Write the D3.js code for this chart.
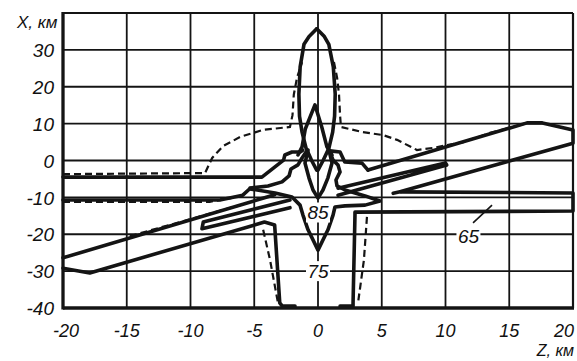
<!DOCTYPE html>
<html><head><meta charset="utf-8">
<script src="https://cdn.jsdelivr.net/npm/d3@7"></script>
<style>
body{margin:0;background:#fff}
svg{display:block}
text{font-family:"Liberation Sans",Arial,sans-serif;font-style:italic;fill:#111}
</style>
</head><body><svg id="c" width="577" height="361"></svg>
<script>
// ---- data (Z km, X km) ----
const zTicks = [-20,-15,-10,-5,0,5,10,15,20];
const xTicks = [-40,-30,-20,-10,0,10,20,30];
const levelLabels = ["85","75","65"];

// solid contour polylines
const lensLeft  = [[-0.1,35.7],[-0.7,33.6],[-1.1,31.5],[-1.4,25.4],[-1.5,18],[-1.45,12],[-1.25,7.7],[-0.94,3.4],[-0.5,0],[-0.1,-2.6]];
const lensRight = [[-0.1,35.7],[0.5,33.6],[0.85,31.5],[1.2,25.4],[1.35,18],[1.3,12],[1.15,7.7],[0.86,3.4],[0.4,0],[0,-2.6]];
const spike     = [[-1.57,1.5],[-1.25,3.7],[-1.0,8.5],[-0.24,15.1],[0.3,9.0],[0.7,3.7],[1.1,1.5]];
const heart     = [[-0.78,2.85],[-1.02,-0.7],[-0.71,-4.7],[-0.39,-8.0],[0,-10.2],[0.39,-8.0],[0.78,-4.7],[1.1,-0.7],[0.86,2.85]];
const star85    = [[-0.94,2.3],[-1.25,0.7],[-1.57,-1.2],[-2.12,-2.3],[-2.27,-4.2],[-2.82,-5.8],[-3.92,-6.9],[-5.33,-7.5],
                   [-5.33,-7.7],[-3.37,-8.8],[-2.04,-9.9],[-1.41,-12.1],[-1.18,-14.8],[-0.78,-18.8],[0,-24.3],
                   [0.78,-18.8],[1.18,-14.8],[1.33,-12.6],[2.12,-12.3],[3.69,-12.1],[4.86,-11.0],
                   [3.69,-9.6],[2.12,-8.0],[1.49,-6.9],[1.41,-5.3],[1.73,-3.1],[1.57,-1.2],[1.18,0.1],[0.94,2.3]];
const outerLeft = [[-20,-4.5],[-4.4,-4.5],[-2.7,0.1],[-2.6,1.5],[-2.04,2.3],[-1.4,2.3],[-1.2,2.8]];
const outerRight= [[0.94,2.6],[1.73,2.3],[2.1,-0.4],[3.45,-0.7],[3.92,-2.6]];
const leftBandLow = [[-20,-10.7],[-7.7,-10.7],[-5.9,-9.4],[-5.33,-7.6]];
const bigBandUpperA = [[-20,-26.4],[-3.4,-9.3]];
const bigBandUpperB = [[3.92,-2.6],[16.4,10.2],[17.6,10.2],[20,8.3],[20,4.7],[6.5,-8.4]];
const bigBandLowerL = [[-20,-29.2],[-17.9,-30.5],[-4.2,-16.7],[-3.4,-17.5],[-3.0,-38.6],[-2.8,-39.5],[-1.8,-39.5]];
const rightBand = [[1.73,-39.5],[2.75,-39.5],[2.75,-38.6],[2.9,-14.8],[2.9,-14.0],[20,-13.7],[20,-8.8],[6.43,-8.5],[5.9,-8.9]];
const thinLeft  = [[-2.2,-10.7],[-9.0,-16.7],[-9.1,-18.5],[-2.2,-12.8]];
const thinRight = [[1.57,-7.5],[10.0,-0.7],[10.1,-1.2],[1.57,-9.4]];

// dashed contour polylines
const dashA = [[-20,-3.7],[-8.86,-3.4],[-8.3,0.7],[-7.45,3.9],[-6.1,6.4],[-4.3,8.3],[-2.2,9.1],[-2.0,12.3],[-1.9,17.8],[-1.65,22.4],[-1.25,26.7]];
const dashB = [[1.25,26.7],[1.5,22.4],[1.65,17.8],[1.73,12.3],[1.8,9.1],[3.5,7.7],[5.1,6.9],[6.2,5.6],[7.76,2.85],[9.0,3.4],[11.4,5.0],[13.5,7.5],[15.3,9.1],[16.4,10.2]];
const dashC = [[-20,-11.2],[-8.5,-11.2],[-6.8,-10.2]];
const dashD = [[-14.75,-20.5],[-6.1,-12.1]];
const dashE = [[-4.3,-18.8],[-3.76,-27.0],[-3.14,-38.6]];
const dashF = [[3.84,-15.3],[3.6,-27.0],[3.14,-38.6]];

// ---- drawing ----
const svg = d3.select("#c");
const x = d3.scaleLinear().domain([-20,20]).range([63,573]);
const y = d3.scaleLinear().domain([-40,40]).range([308,13]);
const ink = "#141414";

// grid
svg.append("g").selectAll("line").data(zTicks.slice(1,-1)).join("line")
  .attr("x1",d=>x(d)).attr("x2",d=>x(d)).attr("y1",y(40)).attr("y2",y(-40))
  .attr("stroke",ink).attr("stroke-width",1.8);
svg.append("g").selectAll("line").data(xTicks.slice(1)).join("line")
  .attr("y1",d=>y(d)).attr("y2",d=>y(d)).attr("x1",x(-20)).attr("x2",x(20))
  .attr("stroke",ink).attr("stroke-width",1.8);
// frame
svg.append("line").attr("x1",x(-20)).attr("x2",x(20)).attr("y1",y(40)).attr("y2",y(40)).attr("stroke",ink).attr("stroke-width",2);
svg.append("line").attr("x1",x(20)).attr("x2",x(20)).attr("y1",y(40)).attr("y2",y(-40)).attr("stroke",ink).attr("stroke-width",2.2);
svg.append("line").attr("x1",x(-20)).attr("x2",x(-20)).attr("y1",y(40)-1).attr("y2",y(-40)+1.5).attr("stroke",ink).attr("stroke-width",3.3);
svg.append("line").attr("x1",x(-20)).attr("x2",x(20)+1).attr("y1",y(-40)).attr("y2",y(-40)).attr("stroke",ink).attr("stroke-width",3.3);

const line = d3.line().x(d=>x(d[0])).y(d=>y(d[1]));
const solids = [lensLeft,lensRight,spike,heart,star85,outerLeft,outerRight,leftBandLow,bigBandUpperA,bigBandUpperB,bigBandLowerL,rightBand,thinLeft,thinRight];
svg.append("g").selectAll("path").data(solids).join("path")
  .attr("d",line).attr("fill","none").attr("stroke",ink)
  .attr("stroke-width",3.6).attr("stroke-linejoin","round").attr("stroke-linecap","round");
const dashes = [dashA,dashB,dashC,dashD,dashE,dashF];
svg.append("g").selectAll("path").data(dashes).join("path")
  .attr("d",line).attr("fill","none").attr("stroke",ink)
  .attr("stroke-width",2.2).attr("stroke-dasharray","7,4");

// level labels (with gridline breaks)
const labelPos = [[0,-14.1],[0,-30],[11.8,-20.6]];
const lg = svg.append("g");
levelLabels.forEach((t,i)=>{
  const px = x(labelPos[i][0]), py = y(labelPos[i][1]);
  lg.append("rect").attr("x",px-12).attr("y",py-10).attr("width",24).attr("height",20).attr("fill","#fff");
  lg.append("text").attr("x",px).attr("y",py).attr("dy","0.35em").attr("text-anchor","middle")
    .attr("font-size",19).text(t);
});
// leader for 65
svg.append("line").attr("x1",x(12.16)).attr("y1",y(-16.9)).attr("x2",x(13.65)).attr("y2",y(-12.1))
  .attr("stroke",ink).attr("stroke-width",1.6);

// tick labels
svg.append("g").selectAll("text").data(xTicks).join("text")
  .attr("x",54).attr("y",d=>y(d)).attr("dy","0.38em").attr("text-anchor","end")
  .attr("font-size",19).text(d=>d);
svg.append("g").selectAll("text").data(zTicks).join("text")
  .attr("x",d=>d===-20?x(d)+3:(d===20?x(d)-9:x(d))).attr("y",337).attr("text-anchor","middle")
  .attr("font-size",18).text(d=>d);
svg.append("text").attr("x",17).attr("y",28).attr("font-size",17).text("X, км");
svg.append("text").attr("x",574).attr("y",356).attr("text-anchor","end").attr("font-size",16).text("Z, км");
</script>
</body></html>
